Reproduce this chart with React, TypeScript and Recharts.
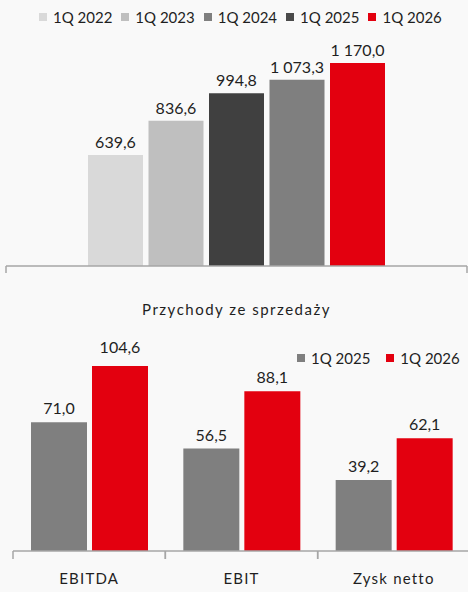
import React from 'react';
import { BarChart, Bar, XAxis, YAxis, LabelList } from 'recharts';

// ---- Data ----
const revenueCategory = ['Przychody ze sprzedaży'];
const revenueSeries = ['1Q 2022', '1Q 2023', '1Q 2024', '1Q 2025', '1Q 2026'];
const revenueValues = [639.6, 836.6, 994.8, 1073.3, 1170.0];
const revenueBarColors = ['#d9d9d9', '#bfbfbf', '#404040', '#7f7f7f', '#e3000f'];
const revenueLegendColors = ['#d9d9d9', '#bfbfbf', '#7f7f7f', '#4a4a4a', '#e3000f'];

const profitCategories = ['EBITDA', 'EBIT', 'Zysk netto'];
const profitSeries = ['1Q 2025', '1Q 2026'];
const profit2025 = [71.0, 56.5, 39.2];
const profit2026 = [104.6, 88.1, 62.1];
const profitColors = ['#7f7f7f', '#e3000f'];

const revenueData = revenueCategory.map((name) => {
  const row: Record<string, string | number> = { name };
  revenueSeries.forEach((s, i) => {
    row['s' + i] = revenueValues[i];
  });
  return row;
});

const profitData = profitCategories.map((name, i) => ({
  name,
  s0: profit2025[i],
  s1: profit2026[i],
}));

const fmt = (v: any) => {
  const n = Number(v);
  const [ip, dp] = n.toFixed(1).split('.');
  return ip.replace(/\B(?=(\d{3})+(?!\d))/g, ' ') + ',' + dp;
};

const FONT = 'Lato, "Noto Sans", sans-serif';
const AXIS = '#a6a6a6';
const TXT = '#1f1f1f';

function LegendRow({ labels, colors, left, top, gap }: { labels: string[]; colors: string[]; left: number; top: number; gap: number }) {
  return (
    <div style={{ position: 'absolute', left, top, display: 'flex', alignItems: 'center', fontSize: 15, color: TXT, fontFamily: FONT }}>
      {labels.map((l, i) => (
        <div key={l} style={{ display: 'flex', alignItems: 'center', marginRight: i < labels.length - 1 ? gap : 0 }}>
          <span style={{ display: 'inline-block', width: 8, height: 8, background: colors[i], marginRight: 6 }} />
          <span style={{ lineHeight: '16px', whiteSpace: 'nowrap' }}>{l}</span>
        </div>
      ))}
    </div>
  );
}

// Category tick: label plus Excel-style tick marks at the band boundaries
function makeTick(labelGap: number, tickLen: number, spacing: number) {
  return function CatTick(props: any) {
    const { x, y, payload } = props;
    const half = payload && typeof payload.offset === 'number' ? payload.offset : 0;
    return (
      <g>
        {half > 0 && (
          <>
            <line x1={x - half} x2={x - half} y1={y} y2={y + tickLen} stroke={AXIS} strokeWidth={1.5} />
            <line x1={x + half} x2={x + half} y1={y} y2={y + tickLen} stroke={AXIS} strokeWidth={1.5} />
          </>
        )}
        <text x={x} y={y + labelGap} textAnchor="middle" dominantBaseline="alphabetic" fill={TXT}
          fontSize={15} fontFamily={FONT} letterSpacing={spacing}>
          {payload.value}
        </text>
      </g>
    );
  };
}

const RevenueTick = makeTick(49, 7, 1.5);
const ProfitTick = makeTick(33, 8, 1.2);

export default function App() {
  return (
    <div style={{ position: 'absolute', left: 0, top: 0, width: 468, height: 592, background: '#f9f9f9', overflow: 'hidden', fontFamily: FONT }}>
      <LegendRow labels={revenueSeries} colors={revenueLegendColors} left={39} top={9} gap={9} />
      <div style={{ position: 'absolute', left: 0, top: 0 }}>
        <BarChart width={468} height={330} data={revenueData} margin={{ top: 23, right: 1, left: 6, bottom: 64 }} barSize={55} barGap={5.5}>
          <XAxis xAxisId="cat" dataKey="name" type="category" height={0.01} tickLine={false}
            axisLine={{ stroke: AXIS, strokeWidth: 1.5 }} tickSize={0} tickMargin={0} interval={0}
            tick={<RevenueTick />} />
          <YAxis hide domain={[0, 1400]} />
          {revenueSeries.map((s, i) => (
            <Bar key={s} xAxisId="cat" dataKey={'s' + i} name={s} fill={revenueBarColors[i]} isAnimationActive={false}>
              <LabelList dataKey={'s' + i} position="top" offset={7} formatter={fmt} fill={TXT} fontSize={16} fontFamily={FONT} />
            </Bar>
          ))}
        </BarChart>
      </div>
      <LegendRow labels={profitSeries} colors={profitColors} left={297} top={350} gap={16} />
      <div style={{ position: 'absolute', left: 0, top: 330 }}>
        <BarChart width={472} height={262} data={profitData} margin={{ top: 36, right: 2, left: 13, bottom: 41 }} barSize={56} barGap={5}>
          <XAxis xAxisId="cat" dataKey="name" type="category" height={0.01} tickLine={false}
            axisLine={{ stroke: AXIS, strokeWidth: 1.5 }} tickSize={0} tickMargin={0} interval={0}
            tick={<ProfitTick />} />
          <YAxis hide domain={[0, 102]} allowDataOverflow />
          {profitSeries.map((s, i) => (
            <Bar key={s} xAxisId="cat" dataKey={'s' + i} name={s} fill={profitColors[i]} isAnimationActive={false}>
              <LabelList dataKey={'s' + i} position="top" offset={8} formatter={fmt} fill={TXT} fontSize={16} fontFamily={FONT} />
            </Bar>
          ))}
        </BarChart>
      </div>
    </div>
  );
}
